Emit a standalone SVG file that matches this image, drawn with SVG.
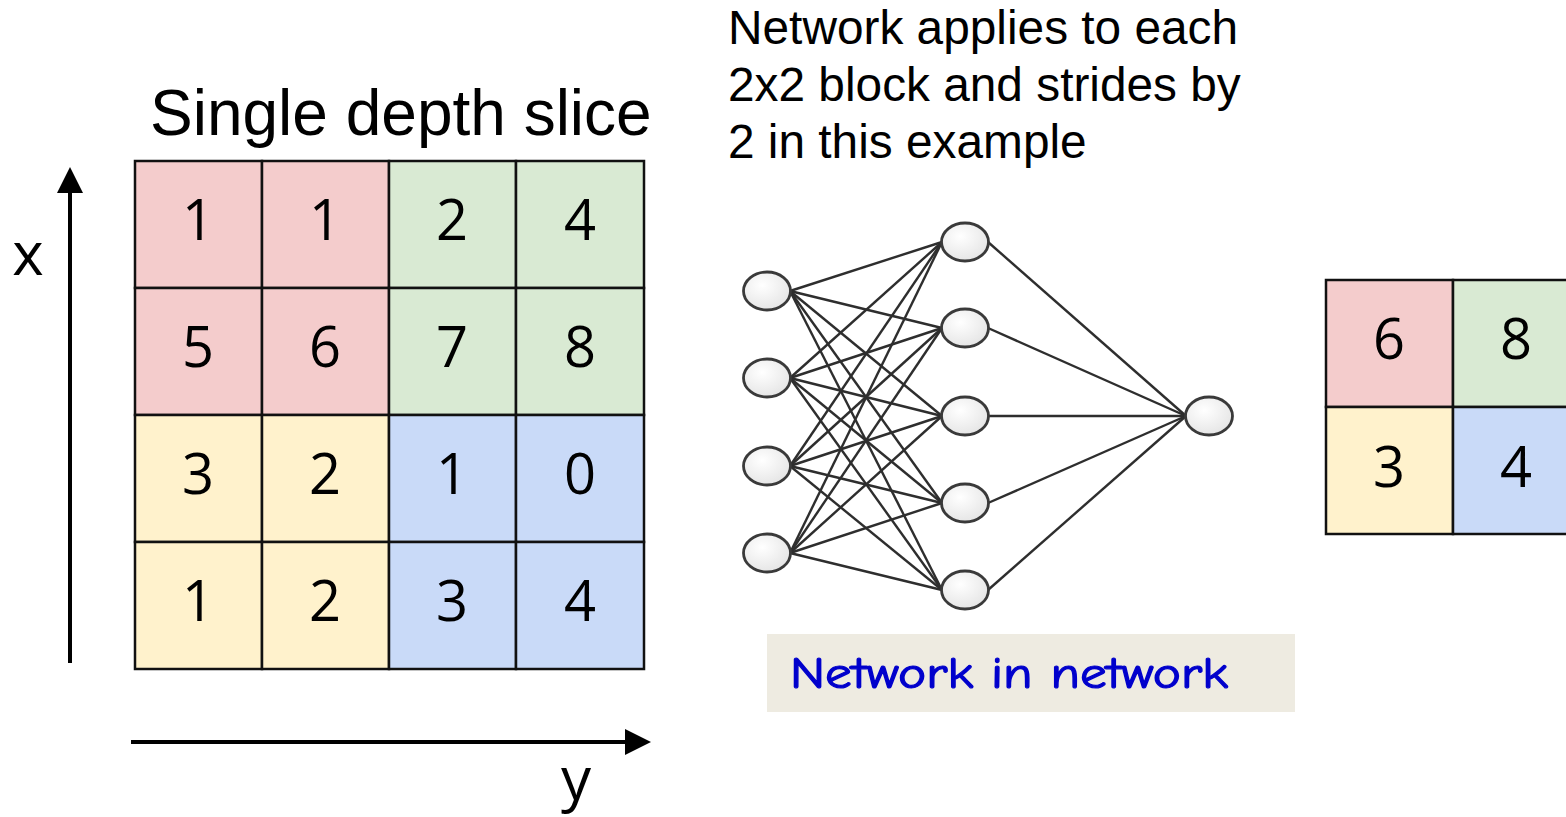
<svg xmlns="http://www.w3.org/2000/svg" width="1566" height="817" viewBox="0 0 1566 817">
<style>
.cell{stroke:#111;stroke-width:2.5}
.pk{fill:#F4CCCC}.gr{fill:#D9EAD3}.ye{fill:#FFF2CC}.bl{fill:#C9DAF8}
.num{font-family:"Open Sans","Noto Sans",sans-serif;font-size:56px;fill:#000;text-anchor:middle}
.ax{stroke:#000;stroke-width:4;fill:none}
.lbl{font-family:"Liberation Sans",Arial,sans-serif;fill:#000}
.nn{fill:url(#ng);stroke:#3a3a3a;stroke-width:2.8}
.w{stroke:#2e2e2e;stroke-width:2.4;fill:none}
</style>
<defs>
<radialGradient id="ng" cx="0.4" cy="0.35" r="0.75">
<stop offset="0" stop-color="#ffffff"/><stop offset="1" stop-color="#e2e2e2"/>
</radialGradient>
</defs>
<rect width="1566" height="817" fill="#fff"/>

<g id="title"><text class="lbl" x="150" y="135" font-size="64">Single depth slice</text></g>
<g id="caption"><text class="lbl" font-size="47.8"><tspan x="728" y="44">Network applies to each</tspan><tspan x="728" y="101">2x2 block and strides by</tspan><tspan x="728" y="158">2 in this example</tspan></text></g>

<g id="axes">
<line class="ax" x1="70" y1="663" x2="70" y2="190"/>
<polygon points="57,193 83,193 70,167" fill="#000"/>
<line class="ax" x1="131" y1="742" x2="628" y2="742"/>
<polygon points="625,729 625,755 651,742" fill="#000"/>
<text x="28" y="275" font-family="Open Sans,sans-serif" font-size="60" text-anchor="middle">x</text>
<text x="576" y="800" font-family="Open Sans,sans-serif" font-size="60" text-anchor="middle">y</text>
</g>

<g id="input-grid">
<rect class="cell pk" x="135" y="161" width="127" height="127"/>
<rect class="cell pk" x="262" y="161" width="127" height="127"/>
<rect class="cell gr" x="389" y="161" width="127" height="127"/>
<rect class="cell gr" x="516" y="161" width="128" height="127"/>
<rect class="cell pk" x="135" y="288" width="127" height="127"/>
<rect class="cell pk" x="262" y="288" width="127" height="127"/>
<rect class="cell gr" x="389" y="288" width="127" height="127"/>
<rect class="cell gr" x="516" y="288" width="128" height="127"/>
<rect class="cell ye" x="135" y="415" width="127" height="127"/>
<rect class="cell ye" x="262" y="415" width="127" height="127"/>
<rect class="cell bl" x="389" y="415" width="127" height="127"/>
<rect class="cell bl" x="516" y="415" width="128" height="127"/>
<rect class="cell ye" x="135" y="542" width="127" height="127"/>
<rect class="cell ye" x="262" y="542" width="127" height="127"/>
<rect class="cell bl" x="389" y="542" width="127" height="127"/>
<rect class="cell bl" x="516" y="542" width="128" height="127"/>
<text class="num" x="198" y="240">1</text><text class="num" x="325" y="240">1</text><text class="num" x="452" y="240">2</text><text class="num" x="580" y="240">4</text>
<text class="num" x="198" y="367">5</text><text class="num" x="325" y="367">6</text><text class="num" x="452" y="367">7</text><text class="num" x="580" y="367">8</text>
<text class="num" x="198" y="494">3</text><text class="num" x="325" y="494">2</text><text class="num" x="452" y="494">1</text><text class="num" x="580" y="494">0</text>
<text class="num" x="198" y="621">1</text><text class="num" x="325" y="621">2</text><text class="num" x="452" y="621">3</text><text class="num" x="580" y="621">4</text>
</g>

<g id="output-grid">
<rect class="cell pk" x="1326" y="280" width="127" height="127"/>
<rect class="cell gr" x="1453" y="280" width="127" height="127"/>
<rect class="cell ye" x="1326" y="407" width="127" height="127"/>
<rect class="cell bl" x="1453" y="407" width="127" height="127"/>
<text class="num" x="1389" y="359">6</text><text class="num" x="1516" y="359">8</text>
<text class="num" x="1389" y="487">3</text><text class="num" x="1516" y="487">4</text>
</g>

<g id="connectors">
<line class="w" x1="790" y1="291" x2="942" y2="242"/><line class="w" x1="790" y1="291" x2="942" y2="328"/><line class="w" x1="790" y1="291" x2="942" y2="416"/><line class="w" x1="790" y1="291" x2="942" y2="503"/><line class="w" x1="790" y1="291" x2="942" y2="590"/>
<line class="w" x1="790" y1="378" x2="942" y2="242"/><line class="w" x1="790" y1="378" x2="942" y2="328"/><line class="w" x1="790" y1="378" x2="942" y2="416"/><line class="w" x1="790" y1="378" x2="942" y2="503"/><line class="w" x1="790" y1="378" x2="942" y2="590"/>
<line class="w" x1="790" y1="466" x2="942" y2="242"/><line class="w" x1="790" y1="466" x2="942" y2="328"/><line class="w" x1="790" y1="466" x2="942" y2="416"/><line class="w" x1="790" y1="466" x2="942" y2="503"/><line class="w" x1="790" y1="466" x2="942" y2="590"/>
<line class="w" x1="790" y1="553" x2="942" y2="242"/><line class="w" x1="790" y1="553" x2="942" y2="328"/><line class="w" x1="790" y1="553" x2="942" y2="416"/><line class="w" x1="790" y1="553" x2="942" y2="503"/><line class="w" x1="790" y1="553" x2="942" y2="590"/>
<line class="w" x1="988" y1="242" x2="1186" y2="416"/><line class="w" x1="988" y1="328" x2="1186" y2="416"/><line class="w" x1="988" y1="416" x2="1186" y2="416"/><line class="w" x1="988" y1="503" x2="1186" y2="416"/><line class="w" x1="988" y1="590" x2="1186" y2="416"/>
</g>

<g id="input-nodes">
<ellipse class="nn" cx="767" cy="291" rx="23.5" ry="19"/>
<ellipse class="nn" cx="767" cy="378" rx="23.5" ry="19"/>
<ellipse class="nn" cx="767" cy="466" rx="23.5" ry="19"/>
<ellipse class="nn" cx="767" cy="553" rx="23.5" ry="19"/>
</g>
<g id="hidden-nodes">
<ellipse class="nn" cx="965" cy="242" rx="23.5" ry="19"/>
<ellipse class="nn" cx="965" cy="328" rx="23.5" ry="19"/>
<ellipse class="nn" cx="965" cy="416" rx="23.5" ry="19"/>
<ellipse class="nn" cx="965" cy="503" rx="23.5" ry="19"/>
<ellipse class="nn" cx="965" cy="590" rx="23.5" ry="19"/>
</g>
<g id="output-node">
<ellipse class="nn" cx="1209" cy="416" rx="23.5" ry="19"/>
</g>

<g id="nin-label">
<rect x="767" y="634" width="528" height="78" fill="#EEEBE1"/>
<text x="790" y="688" font-family="'Comic Sans MS','Comic Neue','DejaVu Sans',sans-serif" font-size="44" fill="#0000CC" stroke="#0000CC" stroke-width="1.2" textLength="438" lengthAdjust="spacingAndGlyphs">Network in network</text>
</g>
</svg>
